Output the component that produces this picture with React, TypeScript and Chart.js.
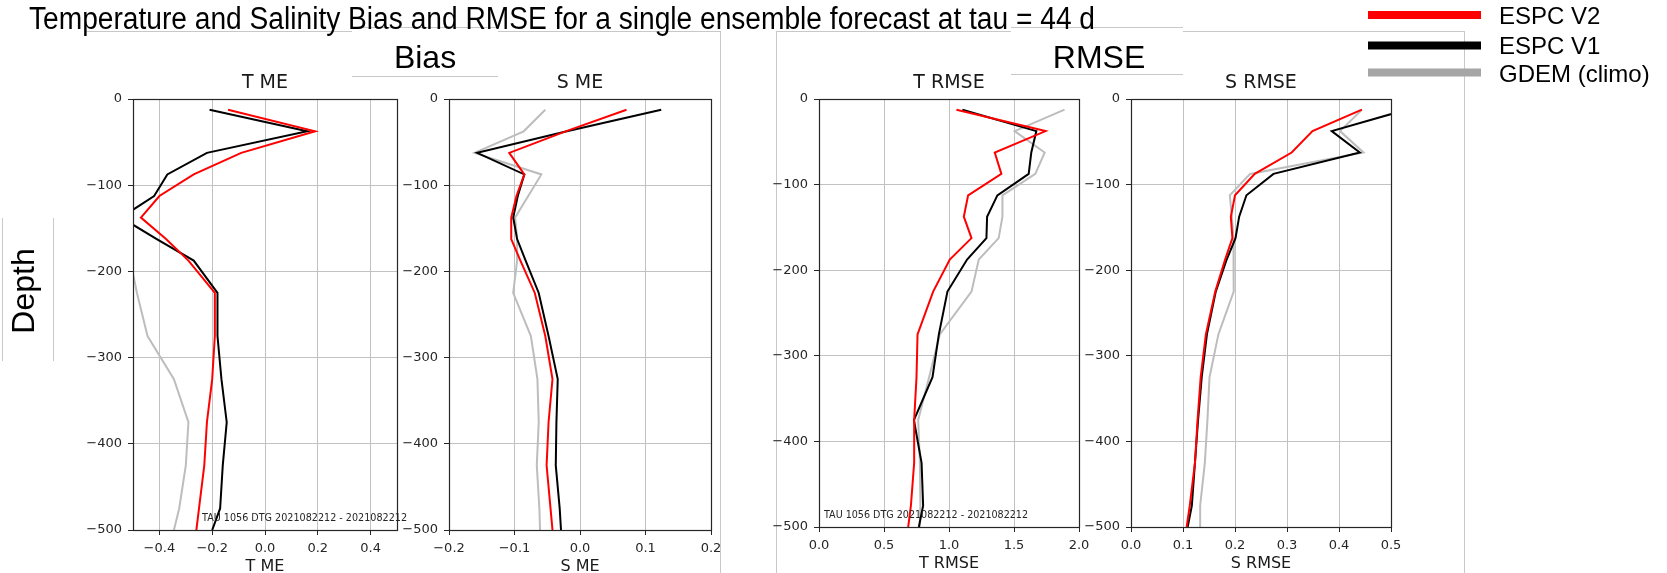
import React, { useEffect, useRef } from 'react';
import { Chart, registerables } from 'chart.js';

Chart.register(...registerables);

// ---------- data ----------
const depths = [-12.5, -37.5, -62.5, -87.5, -112.5, -137.5, -162.5, -187.5, -225, -275, -325, -375, -425, -475, -500];
const depthTicks = [0, -100, -200, -300, -400, -500];

const tmeV2 = [-0.14, 0.19, -0.09, -0.27, -0.4, -0.47, -0.375, -0.29, -0.19, -0.19, -0.2, -0.22, -0.23, -0.25, -0.26];
const tmeV1 = [-0.21, 0.16, -0.22, -0.37, -0.42, -0.545, -0.41, -0.27, -0.18, -0.18, -0.165, -0.145, -0.16, -0.17, -0.2];
const tmeGdem = [null, null, null, null, null, null, null, -0.51, -0.485, -0.445, -0.345, -0.29, -0.3, -0.325, -0.345];
const tmeTicks = [-0.4, -0.2, 0, 0.2, 0.4];

const smeV2 = [0.071, -0.022, -0.108, -0.085, -0.097, -0.105, -0.105, -0.091, -0.069, -0.053, -0.042, -0.048, -0.051, -0.045, -0.042];
const smeV1 = [0.124, -0.02, -0.157, -0.085, -0.095, -0.102, -0.096, -0.083, -0.063, -0.048, -0.034, -0.036, -0.037, -0.031, -0.029];
const smeGdem = [-0.053, -0.086, -0.161, -0.059, -0.079, -0.099, -0.096, -0.096, -0.102, -0.075, -0.065, -0.063, -0.066, -0.062, -0.061];
const smeTicks = [-0.2, -0.1, 0, 0.1, 0.2];

const trmseV2 = [1.057, 1.743, 1.352, 1.403, 1.147, 1.114, 1.173, 1.006, 0.878, 0.758, 0.75, 0.732, 0.732, 0.707, 0.686];
const trmseV1 = [1.103, 1.672, 1.633, 1.613, 1.372, 1.293, 1.288, 1.139, 0.988, 0.922, 0.873, 0.73, 0.789, 0.801, 0.768];
const trmseGdem = [1.889, 1.505, 1.736, 1.664, 1.411, 1.411, 1.382, 1.229, 1.173, 0.929, 0.847, 0.763, 0.776, 0.78, 0.775];
const trmseTicks = [0, 0.5, 1, 1.5, 2];

const srmseV2 = [0.444, 0.349, 0.309, 0.238, 0.2, 0.192, 0.195, 0.181, 0.162, 0.144, 0.134, 0.128, 0.123, 0.113, 0.107];
const srmseV1 = [0.53, 0.386, 0.44, 0.274, 0.222, 0.208, 0.201, 0.184, 0.163, 0.146, 0.136, 0.129, 0.123, 0.117, 0.109];
const srmseGdem = [0.444, 0.402, 0.447, 0.229, 0.19, 0.194, 0.197, 0.198, 0.197, 0.168, 0.151, 0.147, 0.142, 0.133, 0.133];
const srmseTicks = [0, 0.1, 0.2, 0.3, 0.4, 0.5];

const seriesNames = ['ESPC V2', 'ESPC V1', 'GDEM (climo)'];
const seriesColors = ['#ff0000', '#000000', '#bdbdbd'];
const legendColors = ['#ff0000', '#000000', '#a6a6a6'];

const mainTitle = 'Temperature and Salinity Bias and RMSE for a single ensemble forecast at tau = 44 d';
const stamp = 'TAU 1056 DTG 2021082212 - 2021082212';

type Panel = {
  title: string; xlabel: string; xmin: number; xmax: number; ticks: number[];
  v2: (number | null)[]; v1: (number | null)[]; gdem: (number | null)[];
  l: number; t: number; w: number; h: number;
};

const panels: Panel[] = [
  { title: 'T ME', xlabel: 'T ME', xmin: -0.5, xmax: 0.5, ticks: tmeTicks, v2: tmeV2, v1: tmeV1, gdem: tmeGdem, l: 133, t: 99, w: 264, h: 431 },
  { title: 'S ME', xlabel: 'S ME', xmin: -0.2, xmax: 0.2, ticks: smeTicks, v2: smeV2, v1: smeV1, gdem: smeGdem, l: 449, t: 99, w: 262, h: 431 },
  { title: 'T RMSE', xlabel: 'T RMSE', xmin: 0, xmax: 2, ticks: trmseTicks, v2: trmseV2, v1: trmseV1, gdem: trmseGdem, l: 819, t: 99, w: 260, h: 428 },
  { title: 'S RMSE', xlabel: 'S RMSE', xmin: 0, xmax: 0.5, ticks: srmseTicks, v2: srmseV2, v1: srmseV1, gdem: srmseGdem, l: 1131, t: 99, w: 260, h: 428 },
];

const PAD_L = 80, PAD_T = 12, PAD_R = 14, AX_H = 46;
const MPL = "'DejaVu Sans', sans-serif";
const ARIAL = "'Liberation Sans', Arial, sans-serif";

const fmt = (v: number, d: number) => v.toFixed(d).replace('-', '\u2212');

const framePlugin = {
  id: 'frame',
  afterDatasetsDraw(chart: any) {
    const { ctx, chartArea: a } = chart;
    ctx.save();
    ctx.strokeStyle = '#262626';
    ctx.lineWidth = 1.2;
    ctx.strokeRect(Math.round(a.left) + 0.5, Math.round(a.top) + 0.5, Math.round(a.right - a.left), Math.round(a.bottom - a.top));
    ctx.restore();
  },
};

function PanelChart({ p }: { p: Panel }) {
  const ref = useRef<HTMLCanvasElement>(null);
  useEffect(() => {
    const mk = (vals: (number | null)[]) => depths.map((d, i) => ({ x: vals[i], y: d }));
    const series = [p.v2, p.v1, p.gdem];
    const chart = new Chart(ref.current as HTMLCanvasElement, {
      type: 'line',
      data: {
        datasets: series.map((s, i) => ({
          label: seriesNames[i],
          data: mk(s) as any,
          borderColor: seriesColors[i],
          backgroundColor: seriesColors[i],
          borderWidth: 2,
          pointRadius: 0,
          tension: 0,
          fill: false,
          order: i,
          clip: 0,
        })),
      },
      options: {
        animation: false,
        responsive: false,
        events: [],
        layout: { padding: { top: PAD_T, right: PAD_R, left: 0, bottom: 0 } },
        plugins: { legend: { display: false }, tooltip: { enabled: false }, title: { display: false } },
        scales: {
          x: {
            type: 'linear',
            min: p.xmin,
            max: p.xmax,
            afterBuildTicks: (s: any) => { s.ticks = p.ticks.map((v) => ({ value: v })); },
            afterFit: (s: any) => { s.height = AX_H; s.paddingLeft = 0; s.paddingRight = 0; },
            grid: { color: '#c2c2c2', lineWidth: 1, drawTicks: true, tickLength: 5, tickColor: '#262626', tickWidth: 1 },
            border: { display: false },
            ticks: {
              padding: 6, maxRotation: 0, autoSkip: false,
              font: { family: MPL, size: 13 }, color: '#262626',
              callback: (v: any) => fmt(Number(v), 1),
            },
            title: { display: true, text: p.xlabel, font: { family: MPL, size: 16 }, color: '#1a1a1a', padding: { top: 0, bottom: 0 } },
          },
          y: {
            type: 'linear',
            min: -500,
            max: 0,
            afterBuildTicks: (s: any) => { s.ticks = depthTicks.map((v) => ({ value: v })); },
            afterFit: (s: any) => { s.width = PAD_L; s.paddingTop = 0; s.paddingBottom = 0; },
            grid: { color: '#c2c2c2', lineWidth: 1, drawTicks: true, tickLength: 5, tickColor: '#262626', tickWidth: 1 },
            border: { display: false },
            ticks: {
              padding: 6, autoSkip: false,
              font: { family: MPL, size: 13 }, color: '#262626',
              callback: (v: any) => fmt(Number(v), 0),
            },
          },
        },
      } as any,
      plugins: [framePlugin],
    });
    return () => chart.destroy();
  }, []);
  const W = p.w + PAD_L + PAD_R;
  const H = p.h + PAD_T + AX_H;
  return (
    <canvas
      ref={ref}
      width={W}
      height={H}
      style={{ position: 'absolute', left: p.l - PAD_L, top: p.t - PAD_T, width: W, height: H }}
    />
  );
}

const frameStroke = '#c8c8c8';

export default function App() {
  return (
    <div style={{ position: 'fixed', left: 0, top: 0, width: 1667, height: 573, overflow: 'hidden', background: '#fff' }}>
      <svg width={1667} height={573} style={{ position: 'absolute', left: 0, top: 0 }}>
        {/* collage frames */}
        <g stroke={frameStroke} strokeWidth={1} fill="none" shapeRendering="crispEdges">
          <line x1={84} y1={31.5} x2={352} y2={31.5} />
          <line x1={352} y1={27.5} x2={498} y2={27.5} />
          <line x1={352} y1={76.5} x2={498} y2={76.5} />
          <line x1={498} y1={31.5} x2={720} y2={31.5} />
          <line x1={720.5} y1={31} x2={720.5} y2={573} />
          <line x1={776.5} y1={31} x2={776.5} y2={573} />
          <line x1={776} y1={31.5} x2={1011} y2={31.5} />
          <line x1={1011} y1={27.5} x2={1183} y2={27.5} />
          <line x1={1011} y1={74.5} x2={1183} y2={74.5} />
          <line x1={1183} y1={31.5} x2={1464} y2={31.5} />
          <line x1={1464.5} y1={31} x2={1464.5} y2={573} />
          <line x1={2.5} y1={218} x2={2.5} y2={361} />
          <line x1={53.5} y1={218} x2={53.5} y2={361} />
        </g>
      </svg>
      {panels.map((p) => (
        <PanelChart key={p.title} p={p} />
      ))}
      <svg width={1667} height={573} style={{ position: 'absolute', left: 0, top: 0, pointerEvents: 'none' }}>
        <text x={29} y={29} fontFamily={ARIAL} fontSize={31} fill="#000" textLength={1066} lengthAdjust="spacingAndGlyphs">{mainTitle}</text>
        <text x={425} y={68} fontFamily={ARIAL} fontSize={32} fill="#000" textAnchor="middle">Bias</text>
        <text x={1099} y={68} fontFamily={ARIAL} fontSize={32} fill="#000" textAnchor="middle">RMSE</text>
        <text transform="translate(34,291) rotate(-90)" fontFamily={ARIAL} fontSize={32} fill="#000" textAnchor="middle">Depth</text>
        {panels.map((p) => (
          <text key={p.title} x={p.l + p.w / 2} y={87.5} fontFamily={MPL} fontSize={19} fill="#1a1a1a" textAnchor="middle">{p.title}</text>
        ))}
        <text x={202} y={520.5} fontFamily={MPL} fontSize={10} fill="#262626" textLength={205} lengthAdjust="spacingAndGlyphs">{stamp}</text>
        <text x={824} y={517.5} fontFamily={MPL} fontSize={10} fill="#262626" textLength={204} lengthAdjust="spacingAndGlyphs">{stamp}</text>
        {/* figure legend */}
        {[15, 45.5, 72.5].map((cy, i) => (
          <rect key={'l' + i} x={1368} y={cy - 4} width={113} height={8} fill={legendColors[i]} />
        ))}
        {[23.5, 54, 82].map((by, i) => (
          <text key={'t' + i} x={1499} y={by} fontFamily={ARIAL} fontSize={24} fill="#000">{seriesNames[i]}</text>
        ))}
      </svg>
    </div>
  );
}
